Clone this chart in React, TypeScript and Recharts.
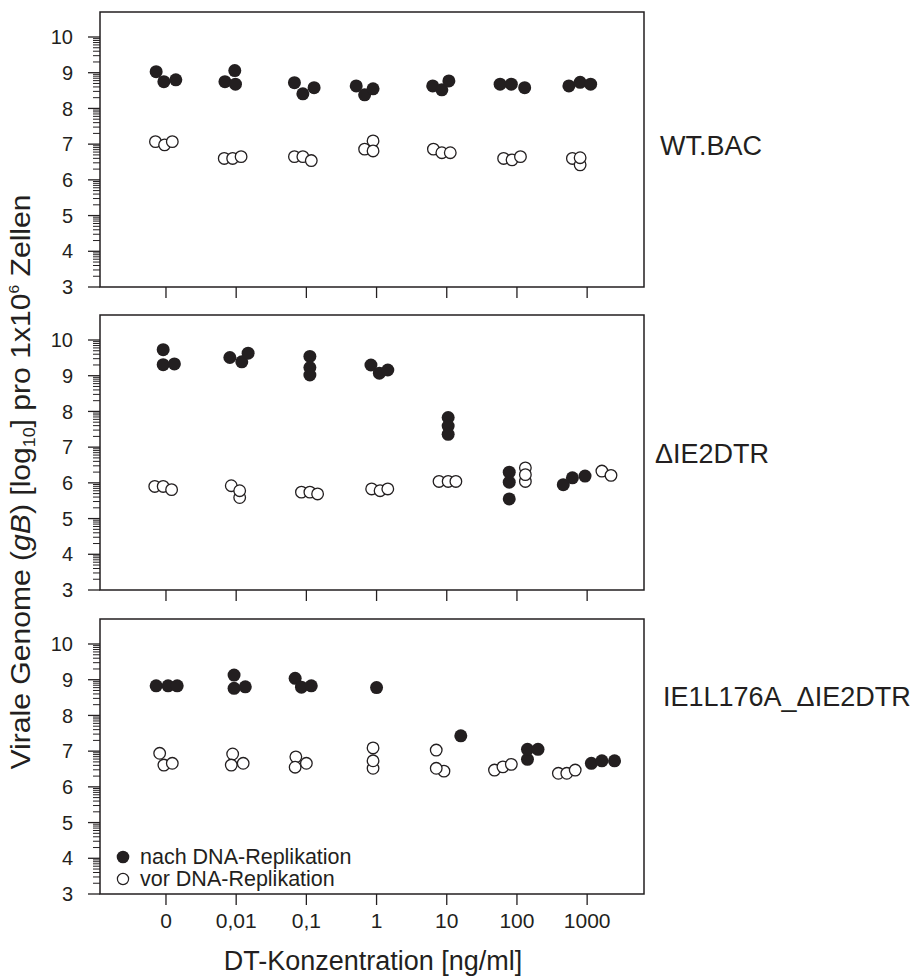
import { ScatterChart, Scatter, XAxis, YAxis, ReferenceArea, Legend } from "recharts";

const INK = "#231f20";
const FONT = "'Liberation Sans', Arial, sans-serif";

const doseLabels = ["0", "0,01", "0,1", "1", "10", "100", "1000"];
const doseTicks = [0, 1, 2, 3, 4, 5, 6];
const xDomain = [-0.94, 6.81];
const yDomain = [3, 10.7];

const nachLabel = "nach DNA-Replikation";
const vorLabel = "vor DNA-Replikation";

// [dose index, jitter, log10 genomes]
const wtNach = [
  [0, -0.14, 9.03], [0, -0.03, 8.75], [0, 0.14, 8.8],
  [1, -0.16, 8.75], [1, -0.02, 9.06], [1, -0.01, 8.68],
  [2, -0.17, 8.72], [2, -0.05, 8.41], [2, 0.11, 8.58],
  [3, -0.29, 8.63], [3, -0.17, 8.38], [3, -0.05, 8.55],
  [4, -0.2, 8.63], [4, -0.07, 8.52], [4, 0.03, 8.77],
  [5, -0.24, 8.68], [5, -0.08, 8.68], [5, 0.11, 8.58],
  [6, -0.26, 8.63], [6, -0.1, 8.73], [6, 0.05, 8.68],
];
const wtVor = [
  [0, -0.15, 7.07], [0, -0.02, 6.98], [0, 0.09, 7.07],
  [1, -0.17, 6.6], [1, -0.05, 6.6], [1, 0.07, 6.65],
  [2, -0.17, 6.65], [2, -0.05, 6.65], [2, 0.07, 6.54],
  [3, -0.17, 6.86], [3, -0.05, 7.09], [3, -0.05, 6.81],
  [4, -0.19, 6.86], [4, -0.07, 6.76], [4, 0.05, 6.76],
  [5, -0.19, 6.6], [5, -0.07, 6.56], [5, 0.05, 6.65],
  [6, -0.21, 6.6], [6, -0.1, 6.42], [6, -0.1, 6.62],
];
const dtrNach = [
  [0, -0.04, 9.73], [0, -0.04, 9.31], [0, 0.12, 9.33],
  [1, -0.09, 9.51], [1, 0.08, 9.39], [1, 0.17, 9.63],
  [2, 0.05, 9.54], [2, 0.05, 9.23], [2, 0.05, 9.02],
  [3, -0.08, 9.3], [3, 0.04, 9.07], [3, 0.16, 9.16],
  [4, 0.02, 7.83], [4, 0.02, 7.59], [4, 0.02, 7.36],
  [5, -0.11, 6.3], [5, -0.11, 6.02], [5, -0.11, 5.55],
  [6, -0.34, 5.95], [6, -0.21, 6.14], [6, -0.03, 6.19],
];
const dtrVor = [
  [0, -0.16, 5.9], [0, -0.04, 5.9], [0, 0.08, 5.81],
  [1, -0.07, 5.92], [1, 0.05, 5.59], [1, 0.05, 5.78],
  [2, -0.07, 5.74], [2, 0.05, 5.74], [2, 0.16, 5.69],
  [3, -0.07, 5.83], [3, 0.05, 5.78], [3, 0.16, 5.83],
  [4, -0.11, 6.04], [4, 0.02, 6.04], [4, 0.13, 6.04],
  [5, 0.12, 6.04], [5, 0.12, 6.42], [5, 0.12, 6.23],
  [6, 0.21, 6.33], [6, 0.34, 6.21],
];
const ieNach = [
  [0, -0.14, 8.83], [0, 0.03, 8.83], [0, 0.16, 8.83],
  [1, -0.03, 9.13], [1, -0.03, 8.76], [1, 0.13, 8.8],
  [2, -0.16, 9.04], [2, -0.07, 8.79], [2, 0.07, 8.83],
  [3, 0, 8.78],
  [4, 0.2, 7.43],
  [5, 0.15, 6.77], [5, 0.15, 7.05], [5, 0.3, 7.05],
  [6, 0.06, 6.66], [6, 0.21, 6.73], [6, 0.39, 6.73],
];
const ieVor = [
  [0, -0.09, 6.94], [0, -0.03, 6.61], [0, 0.09, 6.66],
  [1, -0.05, 6.92], [1, -0.07, 6.61], [1, 0.1, 6.66],
  [2, -0.15, 6.84], [2, -0.16, 6.55], [2, 0, 6.66],
  [3, -0.05, 7.09], [3, -0.05, 6.52], [3, -0.05, 6.73],
  [4, -0.15, 7.03], [4, -0.04, 6.44], [4, -0.15, 6.52],
  [5, -0.32, 6.47], [5, -0.2, 6.56], [5, -0.08, 6.63],
  [6, -0.41, 6.38], [6, -0.29, 6.38], [6, -0.17, 6.47],
];

const toPoints = (rows: number[][]) => rows.map(([d, j, v]) => ({ x: d + j, y: v }));

// major ticks on integers, log-style minor ticks in between
const yTicks: number[] = [];
for (let n = 3; n <= 10; n++) {
  yTicks.push(n);
  if (n < 10) for (let k = 2; k <= 9; k++) yTicks.push(n + Math.log10(k));
}

const FilledDot = (p: any) => <circle cx={p.cx} cy={p.cy} r={6.5} fill={INK} />;
const OpenDot = (p: any) => (
  <circle cx={p.cx} cy={p.cy} r={5.8} fill="#fff" stroke={INK} strokeWidth={1.3} />
);

const YTick = (props: any) => {
  const { x, y, payload } = props;
  const v = payload.value;
  const major = Math.abs(v - Math.round(v)) < 1e-6;
  return (
    <g>
      <line x1={x - (major ? 12 : 7)} x2={x} y1={y} y2={y} stroke={INK} strokeWidth={major ? 1.3 : 1} />
      {major && (
        <text x={x - 27} y={y} dy="0.36em" textAnchor="end" fontSize={20} fill={INK} fontFamily={FONT}>
          {Math.round(v)}
        </text>
      )}
    </g>
  );
};

const XTick = (props: any) => {
  const { x, y, payload, show } = props;
  if (!show) return <g />;
  return (
    <text x={x} y={y + 23} textAnchor="middle" fontSize={21} fill={INK} fontFamily={FONT}>
      {doseLabels[payload.value]}
    </text>
  );
};

const LegendBox = (props: any) => {
  const items = props.payload || [];
  return (
    <div style={{ fontFamily: FONT, fontSize: 21.5, color: INK }}>
      {items.map((it: any) => (
        <div key={it.value} style={{ height: 22.5, lineHeight: "22.5px", display: "flex", alignItems: "center" }}>
          <svg width={14} height={14} style={{ marginRight: 10 }}>
            {it.value === nachLabel ? (
              <circle cx={7} cy={7} r={6.3} fill={INK} />
            ) : (
              <circle cx={7} cy={7} r={5.6} fill="#fff" stroke={INK} strokeWidth={1.2} />
            )}
          </svg>
          <span>{it.value}</span>
        </div>
      ))}
    </div>
  );
};

interface PanelProps {
  top: number;
  height: number;
  marginTop: number;
  axisHeight: number;
  nach: number[][];
  vor: number[][];
  labels?: boolean;
  legend?: boolean;
}

const Panel = ({ top, height, marginTop, axisHeight, nach, vor, labels, legend }: PanelProps) => (
  <div style={{ position: "absolute", left: 0, top }}>
    <ScatterChart width={918} height={height} margin={{ top: marginTop, right: 274, bottom: 0, left: 40 }}>
      <ReferenceArea
        x1={xDomain[0]}
        x2={xDomain[1]}
        y1={yDomain[0]}
        y2={yDomain[1]}
        fill="none"
        stroke={INK}
        strokeWidth={1.5}
        fillOpacity={0}
        strokeOpacity={1}
      />
      <XAxis
        type="number"
        dataKey="x"
        domain={xDomain}
        ticks={doseTicks}
        interval={0}
        allowDataOverflow
        axisLine={false}
        tickSize={11}
        tickMargin={0}
        tickLine={{ stroke: INK, strokeWidth: 1.3 }}
        height={axisHeight}
        tick={<XTick show={labels} />}
      />
      <YAxis
        type="number"
        dataKey="y"
        domain={yDomain}
        ticks={yTicks}
        interval={0}
        allowDataOverflow
        axisLine={false}
        tickLine={false}
        tickSize={0}
        tickMargin={0}
        width={60}
        tick={<YTick />}
      />
      {legend && (
        <Legend
          layout="vertical"
          align="center"
          verticalAlign="middle"
          content={<LegendBox />}
          wrapperStyle={{ left: 116, top: 240.7, width: 320, height: 45 }}
        />
      )}
      <Scatter name={nachLabel} data={toPoints(nach)} shape={FilledDot} isAnimationActive={false} />
      <Scatter name={vorLabel} data={toPoints(vor)} shape={OpenDot} isAnimationActive={false} />
    </ScatterChart>
  </div>
);

export default function App() {
  return (
    <div style={{ position: "absolute", left: 0, top: 0, width: 918, height: 976, background: "#fff" }}>
      <Panel top={0} height={300} marginTop={12} axisHeight={13} nach={wtNach} vor={wtVor} />
      <Panel top={300} height={305} marginTop={15} axisHeight={15} nach={dtrNach} vor={dtrVor} />
      <Panel top={605} height={371} marginTop={14} axisHeight={82} nach={ieNach} vor={ieVor} labels legend />
      <svg
        width={918}
        height={976}
        style={{ position: "absolute", left: 0, top: 0, pointerEvents: "none" }}
        fontFamily={FONT}
        fill={INK}
      >
        <text x={660} y={155} fontSize={27}>WT.BAC</text>
        <text x={655} y={463} fontSize={27}>ΔIE2DTR</text>
        <text x={663} y={706} fontSize={27}>IE1L176A_ΔIE2DTR</text>
        <text x={373} y={970} fontSize={27} textAnchor="middle">DT-Konzentration [ng/ml]</text>
        <text
          x={30}
          y={482}
          fontSize={27}
          textAnchor="middle"
          textLength={575}
          lengthAdjust="spacingAndGlyphs"
          transform="rotate(-90, 30, 482)"
        >
          Virale Genome (<tspan fontStyle="italic">gB</tspan>) [log
          <tspan fontSize={16} dy={5}>10</tspan>
          <tspan dy={-5}>] pro 1x10</tspan>
          <tspan fontSize={14} dy={-11}>6</tspan>
          <tspan dy={11}> Zellen</tspan>
        </text>
      </svg>
    </div>
  );
}
